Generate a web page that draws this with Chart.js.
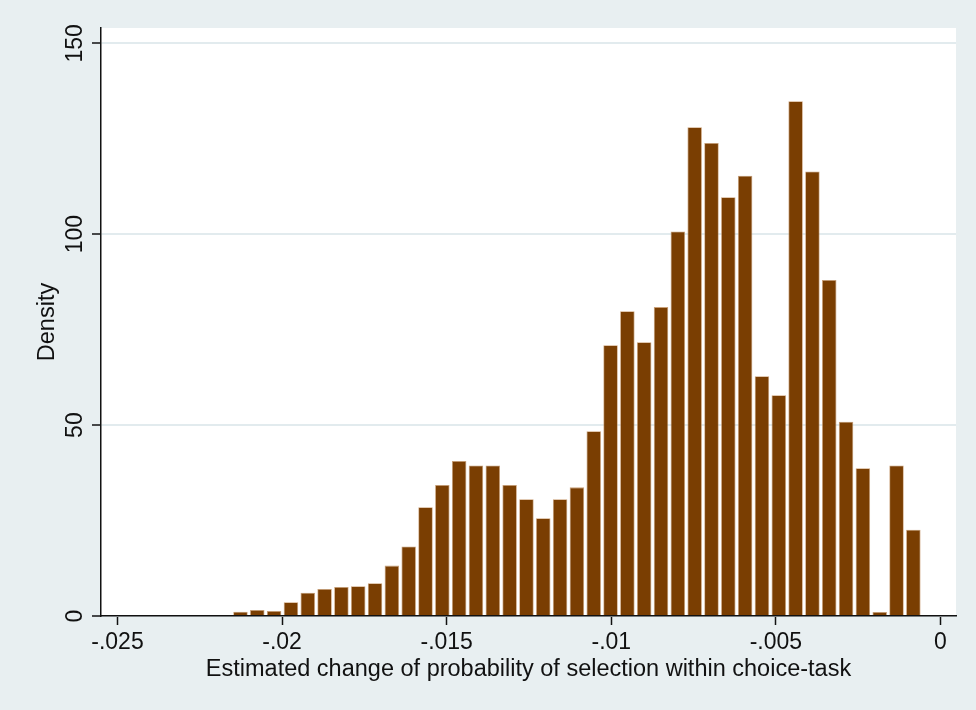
<!DOCTYPE html>
<html>
<head>
<meta charset="utf-8">
<script src="https://cdn.jsdelivr.net/npm/chart.js@4.4.1/dist/chart.umd.min.js"></script>
<style>
  html, body { margin: 0; padding: 0; background: #e8eff1; }
  #wrap { width: 976px; height: 710px; }
</style>
</head>
<body>
<div id="wrap"><canvas id="c" width="976" height="710"></canvas></div>
<script>
// Histogram of the estimated change in selection probability (41 bins)
const binStart = -0.02152;
const binWidth = 0.000511;
const densities = [
  1.1, 1.6, 1.3, 3.6, 6.1, 7.1, 7.6, 7.8, 8.6, 13.2,
  18.2, 28.5, 34.3, 40.6, 39.4, 39.4, 34.3, 30.6, 25.6, 30.6,
  33.7, 48.4, 70.9, 79.8, 71.7, 80.9, 100.7, 128.0, 123.9, 109.7,
  115.3, 62.8, 57.8, 134.8, 116.4, 88.0, 50.9, 38.7, 1.05, 39.4,
  22.6
];
const xTickValues = [-0.025, -0.02, -0.015, -0.01, -0.005, 0];
const xTickLabels = ['-.025', '-.02', '-.015', '-.01', '-.005', '0'];
const yTickValues = [0, 50, 100, 150];
const yTickLabels = ['0', '50', '100', '150'];

const FONT = "'Liberation Sans', Arial, Helvetica, sans-serif";
const AXIS = '#111111';

const points = densities.map((d, i) => ({ x: binStart + binWidth * (i + 0.5), y: d }));

// Paints the outer region and the white plot region
const backdrop = {
  id: 'backdrop',
  beforeDraw(chart) {
    const { ctx, chartArea: a } = chart;
    ctx.save();
    ctx.fillStyle = '#e8eff1';
    ctx.fillRect(0, 0, chart.width, chart.height);
    ctx.fillStyle = '#ffffff';
    ctx.fillRect(a.left, a.top, a.right - a.left, a.bottom - a.top);
    ctx.restore();
  }
};

// Vertical (rotated) tick labels on the density axis
const yLabels = {
  id: 'yLabels',
  afterDraw(chart) {
    const { ctx } = chart;
    const y = chart.scales.y;
    ctx.save();
    ctx.fillStyle = AXIS;
    ctx.font = '23px ' + FONT;
    ctx.textAlign = 'center';
    ctx.textBaseline = 'middle';
    yTickValues.forEach((v, i) => {
      const py = y.getPixelForValue(v);
      ctx.save();
      ctx.translate(76, py);
      ctx.rotate(-Math.PI / 2);
      ctx.fillText(yTickLabels[i], 0, 0);
      ctx.restore();
    });
    ctx.restore();
  }
};

new Chart(document.getElementById('c'), {
  type: 'bar',
  data: {
    datasets: [{
      data: points,
      backgroundColor: '#7a3e02',
      borderColor: 'rgba(196,150,105,0.9)',
      borderWidth: 0.8,
      barPercentage: 0.86,
      categoryPercentage: 1.0
    }]
  },
  options: {
    responsive: false,
    animation: false,
    events: [],
    layout: { padding: { left: 0, right: 20, top: 28, bottom: 0 } },
    plugins: { legend: { display: false }, tooltip: { enabled: false } },
    scales: {
      x: {
        type: 'linear',
        offset: false,
        min: -0.025501,
        max: 0.000471,
        afterBuildTicks(scale) { scale.ticks = xTickValues.map(v => ({ value: v })); },
        afterFit(scale) { scale.height = 94; },
        grid: { display: true, drawOnChartArea: false, drawTicks: true, tickLength: 9, tickColor: AXIS, tickWidth: 1.5, offset: false },
        border: { display: true, color: AXIS, width: 1.5 },
        ticks: {
          color: AXIS,
          font: { family: FONT, size: 23 },
          padding: 4,
          maxRotation: 0,
          autoSkip: false,
          callback(value) {
            const i = xTickValues.findIndex(t => Math.abs(t - value) < 1e-9);
            return i >= 0 ? xTickLabels[i] : '';
          }
        },
        title: {
          display: true,
          text: 'Estimated change of probability of selection within choice-task',
          color: AXIS,
          font: { family: FONT, size: 23.5 },
          padding: { top: 0, bottom: 26 }
        }
      },
      y: {
        min: 0,
        max: 154,
        afterBuildTicks(scale) { scale.ticks = yTickValues.map(v => ({ value: v })); },
        afterFit(scale) { scale.width = 101; },
        grid: { color: 'rgb(226,235,238)', lineWidth: 2, drawTicks: true, tickLength: 9, tickColor: AXIS, tickWidth: 1.5 },
        border: { display: true, color: AXIS, width: 1.5 },
        ticks: { display: false },
        title: {
          display: true,
          text: 'Density',
          color: AXIS,
          font: { family: FONT, size: 23.5 },
          padding: { top: 33, bottom: 0 }
        }
      }
    }
  },
  plugins: [backdrop, yLabels]
});
</script>
</body>
</html>
